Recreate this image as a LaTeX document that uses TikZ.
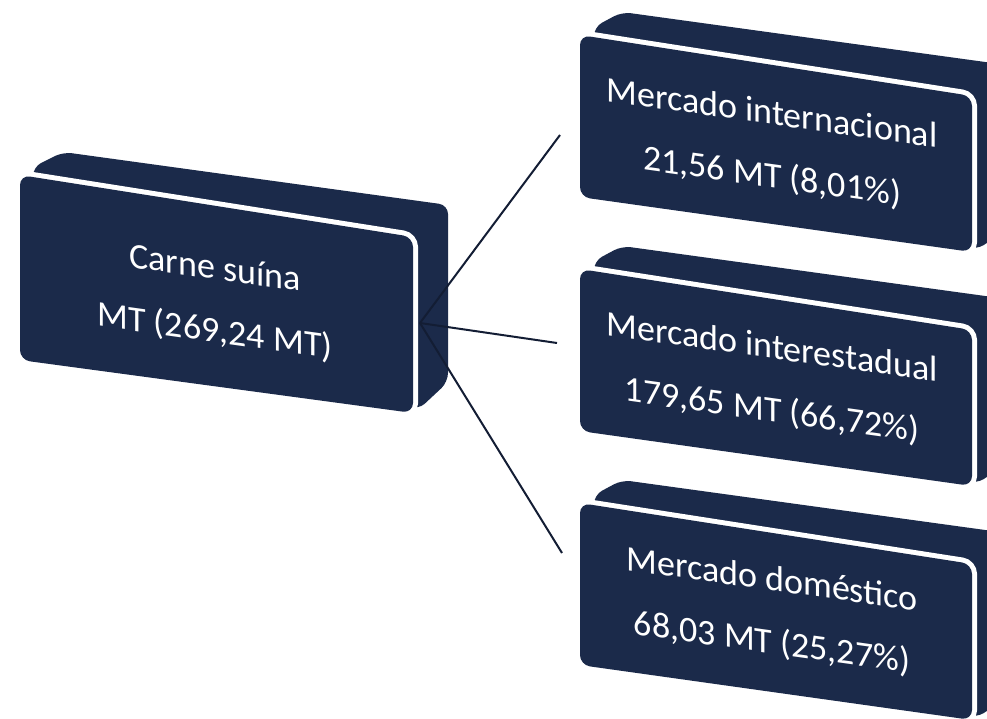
\documentclass[tikz,border=0pt]{standalone}
\usepackage{fontspec}
\setmainfont{Carlito}
\usepackage{tikz}
\usepackage{xcolor}
\usetikzlibrary{positioning}
\definecolor{azulescuro}{HTML}{1B2A4A}

\begin{document}
\begin{tikzpicture}[x=1pt, y=-1pt]
    \tikzset{
        fundo/.style={fill=azulescuro, rounded corners=9pt},
        halo/.style={draw=white, line width=10pt, rounded corners=10pt},
        frente/.style={fill=azulescuro, rounded corners=10pt},
        texto/.style={text=white, align=center, yslant=-0.14, font=\fontsize{36}{63}\selectfont},
        ligacao/.style={draw=azulescuro!70!black, line width=2pt},
    }
    \useasboundingbox (0,0) rectangle (987,718);
    \clip (0,0) rectangle (987,718);

    % bloco da esquerda
    \begin{scope}[shift={(20,175)}]
        \fill[fundo] (13,-8) -- (43,-23) -- (428,30) -- (428,207) -- (398,235) -- (200,150) -- (13,10) -- cycle;
        \draw[halo] (0,0) -- (393,62) -- (393,238) -- (0,185) -- cycle;
        \fill[frente] (0,0) -- (393,62) -- (393,238) -- (0,185) -- cycle;
    \end{scope}

    % blocos da direita
    \begin{scope}[shift={(580,35)}]
        \fill[fundo] (14,-8) -- (42,-23) -- (427,30) -- (427,195) -- (396,215) -- (200,150) -- (14,10) -- cycle;
        \draw[halo] (0,0) -- (392,61) -- (392,217) -- (0,162) -- cycle;
        \fill[frente] (0,0) -- (392,61) -- (392,217) -- (0,162) -- cycle;
    \end{scope}
    \begin{scope}[shift={(580,269)}]
        \fill[fundo] (14,-8) -- (42,-23) -- (427,30) -- (427,195) -- (396,215) -- (200,150) -- (14,10) -- cycle;
        \draw[halo] (0,0) -- (392,61) -- (392,217) -- (0,162) -- cycle;
        \fill[frente] (0,0) -- (392,61) -- (392,217) -- (0,162) -- cycle;
    \end{scope}
    \begin{scope}[shift={(580,503)}]
        \fill[fundo] (14,-8) -- (42,-23) -- (427,30) -- (427,195) -- (396,215) -- (200,150) -- (14,10) -- cycle;
        \draw[halo] (0,0) -- (392,61) -- (392,217) -- (0,162) -- cycle;
        \fill[frente] (0,0) -- (392,61) -- (392,217) -- (0,162) -- cycle;
    \end{scope}

    \node[texto] (bloco0) at (215,301) {Carne suína\\MT (269,24 MT)};
    \node[texto] (bloco1) at (772,146) {Mercado internacional\\21,56 MT (8,01\%)};
    \node[texto] (bloco2) at (772,380) {Mercado interestadual\\179,65 MT (66,72\%)};
    \node[texto] (bloco3) at (772,612) {Mercado doméstico\\68,03 MT (25,27\%)};

    \coordinate (origem) at (420,323);
    \coordinate (fim1) at (560,135);
    \coordinate (fim2) at (557,343);
    \coordinate (fim3) at (562,553);

    \draw[ligacao] (origem) -- (fim1);
    \draw[ligacao] (origem) -- (fim2);
    \draw[ligacao] (origem) -- (fim3);
\end{tikzpicture}
\end{document}
